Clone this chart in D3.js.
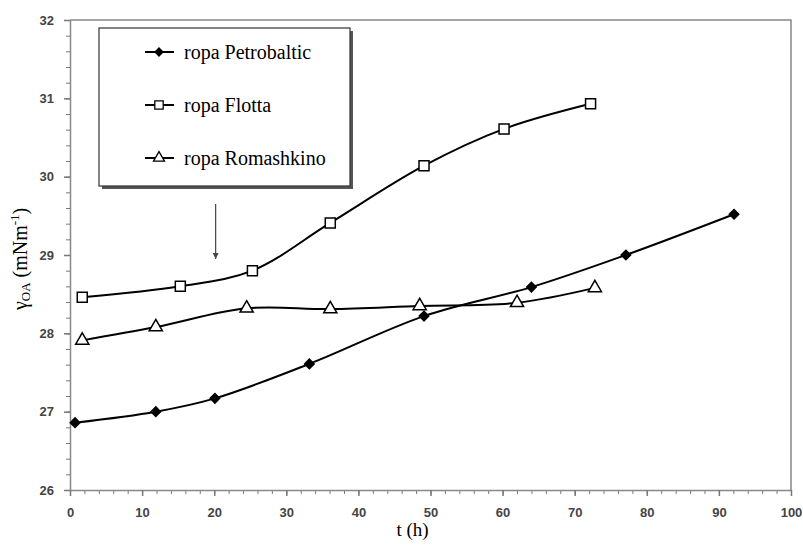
<!DOCTYPE html>
<html lang="en">
<head>
  <meta charset="UTF-8">
  <title>gamma OA vs t</title>
  <script src="https://d3js.org/d3.v7.min.js"></script>
  <style>
    body { margin: 0; background: #fff; }
    .tick text { font-family: "Liberation Sans", Arial, sans-serif; font-weight: bold; font-size: 13px; fill: #444; }
  </style>
</head>
<body>
<div id="chart"></div>
<script>
  // data
  var petroT = [0.7, 11.9, 20.1, 33.2, 49.1, 64.0, 77.1, 92.1];
  var petroY = [26.86, 27.0, 27.17, 27.61, 28.22, 28.59, 29.0, 29.52];
  var flottaT = [1.7, 15.3, 25.3, 36.1, 49.1, 60.2, 72.2];
  var flottaY = [28.46, 28.60, 28.80, 29.41, 30.14, 30.61, 30.93];
  var romaT = [1.7, 11.9, 24.5, 36.1, 48.5, 62.0, 72.8];
  var romaY = [27.91, 28.08, 28.32, 28.31, 28.35, 28.39, 28.58];
  var xTicks = [0, 10, 20, 30, 40, 50, 60, 70, 80, 90, 100];
  var yTicks = [26, 27, 28, 29, 30, 31, 32];
  var seriesNames = ["ropa Petrobaltic", "ropa Flotta", "ropa Romashkino"];

  var margin = {top: 20, right: 12, bottom: 55, left: 70},
    width = 803 - margin.left - margin.right,
    height = 545 - margin.top - margin.bottom;

  var svg = d3.select("#chart").append("svg")
    .attr("width", 803).attr("height", 545)
    .append("g")
    .attr("transform", "translate(" + margin.left + "," + margin.top + ")");

  var x = d3.scaleLinear().domain([0, 100]).range([0, width]);
  var y = d3.scaleLinear().domain([26, 32]).range([height, 0]);

  // frame (top and right)
  svg.append("path")
    .attr("d", "M0,0H" + x(100) + "V" + y(26))
    .attr("fill", "none").attr("stroke", "#888").attr("stroke-width", 1.5);

  // minor ticks
  svg.append("g")
    .attr("transform", "translate(0," + height + ")")
    .call(d3.axisBottom(x).tickValues(d3.range(0, 101, 2)).tickSize(4).tickFormat(""))
    .call(function(g) { g.select(".domain").remove(); g.selectAll("line").attr("stroke", "#777"); });
  svg.append("g")
    .call(d3.axisLeft(y).tickValues(d3.range(26, 32.01, 0.2)).tickSize(4).tickFormat(""))
    .call(function(g) { g.select(".domain").remove(); g.selectAll("line").attr("stroke", "#777"); });

  var xAxis = svg.append("g")
    .attr("transform", "translate(0," + height + ")")
    .call(d3.axisBottom(x).tickValues(xTicks).tickSize(6).tickSizeOuter(0).tickPadding(12));
  var yAxis = svg.append("g")
    .call(d3.axisLeft(y).tickValues(yTicks).tickFormat(d3.format("d")).tickSize(6).tickSizeOuter(0).tickPadding(10));
  [xAxis, yAxis].forEach(function(a) {
    a.select(".domain").attr("stroke", "#888").attr("stroke-width", 1.5);
    a.selectAll(".tick line").attr("stroke", "#777").attr("stroke-width", 1.5);
  });

  // axis titles
  svg.append("text")
    .attr("x", x(47.5)).attr("y", height + 46)
    .attr("text-anchor", "middle")
    .style("font-family", "Liberation Serif, serif").style("font-size", "19px")
    .text("t (h)");
  var yl = svg.append("text")
    .attr("transform", "translate(-43," + (y(28.95)) + ") rotate(-90)")
    .attr("text-anchor", "middle")
    .style("font-family", "Liberation Serif, serif").style("font-size", "20px");
  yl.append("tspan").text("γ");
  yl.append("tspan").attr("font-size", "13px").attr("dy", 3).text("OA");
  yl.append("tspan").attr("dy", -3).text(" (mNm");
  yl.append("tspan").attr("font-size", "13px").attr("dy", -8).text("-1");
  yl.append("tspan").attr("dy", 8).text(")");

  // arrow
  svg.append("defs").append("marker")
    .attr("id", "ah").attr("viewBox", "0 0 10 10").attr("refX", 10).attr("refY", 5)
    .attr("markerWidth", 5).attr("markerHeight", 7).attr("orient", "auto")
    .append("path").attr("d", "M0,0L10,5L0,10z").attr("fill", "#444");
  svg.append("line")
    .attr("x1", x(20.2)).attr("x2", x(20.2))
    .attr("y1", y(29.65)).attr("y2", y(28.95))
    .attr("stroke", "#444").attr("stroke-width", 1.2)
    .attr("marker-end", "url(#ah)");

  var line = d3.line()
    .x(function(d) { return x(d[0]); })
    .y(function(d) { return y(d[1]); })
    .curve(d3.curveCatmullRom.alpha(0.5));

  var series = [
    {t: petroT, v: petroY, sym: d3.symbolSquare, size: 45, rot: 45, fill: "#000"},
    {t: flottaT, v: flottaY, sym: d3.symbolSquare, size: 100, rot: 0, fill: "#fff"},
    {t: romaT, v: romaY, sym: d3.symbolTriangle, size: 75, rot: 0, fill: "#fff"}
  ];

  series.forEach(function(s) {
    var pts = s.t.map(function(t, i) { return [t, s.v[i]]; });
    svg.append("path").datum(pts)
      .attr("d", line)
      .attr("fill", "none").attr("stroke", "#000").attr("stroke-width", 2);
    svg.append("g").selectAll("path").data(pts).enter().append("path")
      .attr("transform", function(d) { return "translate(" + x(d[0]) + "," + y(d[1]) + ") rotate(" + s.rot + ")"; })
      .attr("d", d3.symbol().type(s.sym).size(s.size))
      .attr("fill", s.fill).attr("stroke", "#000").attr("stroke-width", 1.5);
  });

  // legend
  var lg = svg.append("g").attr("transform", "translate(29,8)");
  lg.append("rect").attr("x", 3).attr("y", 3).attr("width", 251).attr("height", 158).attr("fill", "#555");
  lg.append("rect").attr("x", 0).attr("y", 0).attr("width", 251).attr("height", 158)
    .attr("fill", "#fff").attr("stroke", "#333").attr("stroke-width", 1.2);
  seriesNames.forEach(function(name, i) {
    var s = series[i];
    var row = lg.append("g").attr("transform", "translate(0," + (24 + i * 53) + ")");
    row.append("line").attr("x1", 46).attr("x2", 75).attr("stroke", "#000").attr("stroke-width", 2);
    row.append("path").attr("transform", "translate(60,0) rotate(" + s.rot + ")")
      .attr("d", d3.symbol().type(s.sym).size(s.size * 0.7))
      .attr("fill", s.fill).attr("stroke", "#000").attr("stroke-width", 1.3);
    row.append("text").attr("x", 85).attr("y", 7)
      .style("font-family", "Liberation Serif, serif").style("font-size", "20px")
      .text(name);
  });
</script>
</body>
</html>
